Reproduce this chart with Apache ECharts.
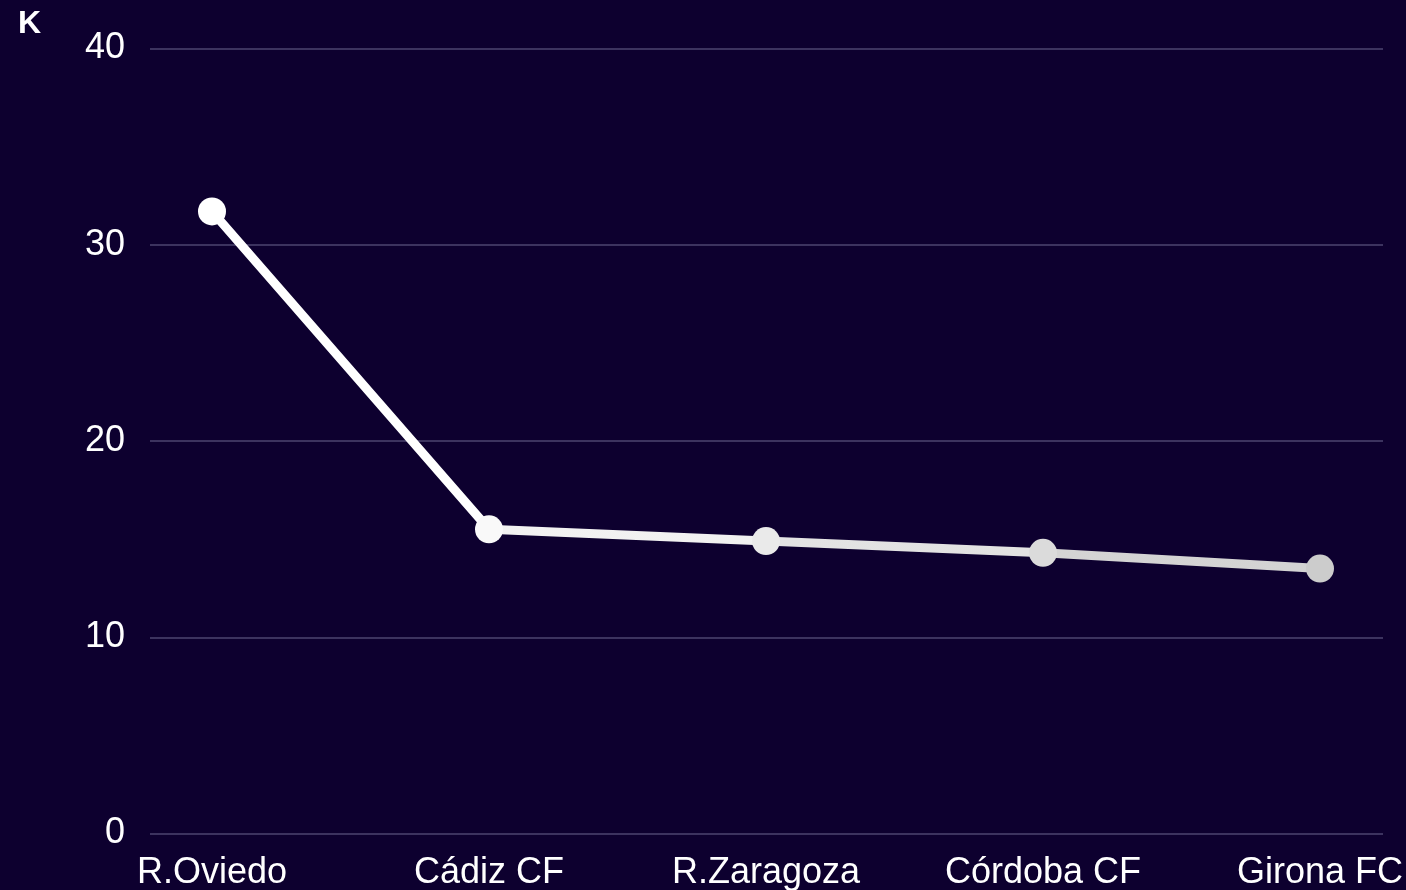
<!DOCTYPE html>
<html>
<head>
<meta charset="utf-8">
<script src="https://cdn.jsdelivr.net/npm/echarts@6/dist/echarts.min.js"></script>
<style>
  html, body { margin:0; padding:0; background:#0d002f; }
  #chart { width:1406px; height:890px; }
</style>
</head>
<body>
<div id="chart"></div>
<script>
  // clubs and values (thousands)
  var clubs = ['R.Oviedo', 'Cádiz CF', 'R.Zaragoza', 'Córdoba CF', 'Girona FC'];
  var values = [31.7, 15.5, 14.9, 14.3, 13.5];
  var yTicks = [0, 10, 20, 30, 40];

  var myChart = echarts.init(document.getElementById('chart'));
  var fontFam = '"Liberation Sans", Arial, sans-serif';

  var option = {
    backgroundColor: '#0d002f',
    animation: false,
    title: {
      text: 'K',
      left: 13,
      top: 3,
      textStyle: { color: '#ffffff', fontSize: 32, fontWeight: 'bold', fontFamily: fontFam }
    },
    // grid 0 carries the y labels and split lines, grid 1 the series
    grid: [
      { left: 150, right: 23, top: 48.5, bottom: 56.5, outerBoundsMode: 'none' },
      { left: 212, right: 86, top: 48.5, bottom: 56.5, outerBoundsMode: 'none' }
    ],
    visualMap: {
      show: false,
      type: 'continuous',
      dimension: 0,
      seriesIndex: 0,
      min: 0.6,
      max: clubs.length - 1,
      inRange: { color: ['#ffffff', '#cccccc'] }
    },
    xAxis: [
      { gridIndex: 0, type: 'category', data: clubs, show: false },
      {
        gridIndex: 1,
        type: 'category',
        data: clubs,
        boundaryGap: false,
        axisLine: { show: false },
        axisTick: { show: false },
        axisLabel: { color: '#ffffff', fontSize: 36, margin: 22, fontFamily: fontFam, interval: 0 }
      }
    ],
    yAxis: [
      {
        gridIndex: 0,
        type: 'value',
        min: yTicks[0],
        max: yTicks[yTicks.length - 1],
        interval: 10,
        axisLine: { show: false },
        axisTick: { show: false },
        axisLabel: { color: '#ffffff', fontSize: 36, margin: 25, fontFamily: fontFam },
        splitLine: { lineStyle: { color: '#4d4470', width: 1.5 } }
      },
      {
        gridIndex: 1,
        type: 'value',
        min: yTicks[0],
        max: yTicks[yTicks.length - 1],
        interval: 10,
        show: false,
        splitLine: { show: false }
      }
    ],
    series: [{
      type: 'line',
      xAxisIndex: 1,
      yAxisIndex: 1,
      data: values,
      symbol: 'circle',
      symbolSize: 28,
      lineStyle: { width: 9 },
      itemStyle: { borderWidth: 0 }
    }]
  };

  myChart.setOption(option);
</script>
</body>
</html>
